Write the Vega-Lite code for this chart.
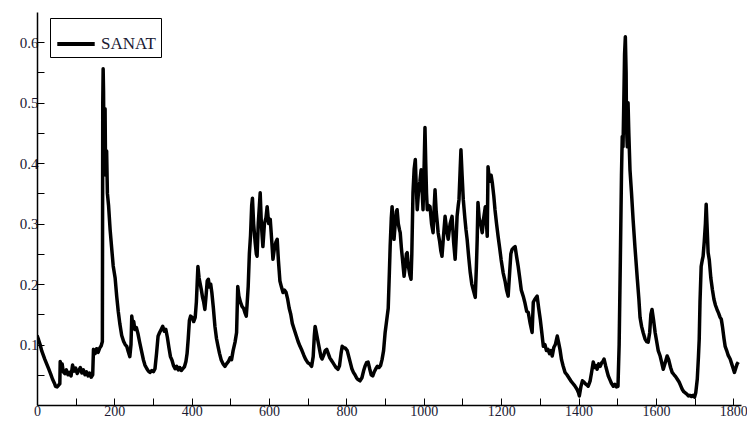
{
  "$schema": "https://vega.github.io/schema/vega-lite/v6.json",
  "autosize": "none",
  "width": 704,
  "height": 393,
  "padding": {"left": 37, "top": 12, "right": 6, "bottom": 28},
  "background": "white",
  "config": {"view": {"stroke": null}},
  "data": {"values": [
{"t":0,"v":0.115},{"t":4,"v":0.108},{"t":8,"v":0.1},{"t":12,"v":0.09},{"t":16,"v":0.083},{"t":20,"v":0.076},{"t":25,"v":0.068},{"t":30,"v":0.06},{"t":35,"v":0.052},{"t":40,"v":0.043},{"t":45,"v":0.036},{"t":48,"v":0.031},{"t":52,"v":0.03},{"t":56,"v":0.033},{"t":59,"v":0.035},{"t":60,"v":0.072},{"t":62,"v":0.062},{"t":65,"v":0.068},{"t":68,"v":0.055},{"t":72,"v":0.052},{"t":76,"v":0.058},{"t":80,"v":0.05},{"t":84,"v":0.054},{"t":88,"v":0.048},{"t":92,"v":0.066},{"t":96,"v":0.056},{"t":100,"v":0.061},{"t":104,"v":0.052},{"t":108,"v":0.057},{"t":112,"v":0.062},{"t":116,"v":0.053},{"t":120,"v":0.058},{"t":124,"v":0.05},{"t":128,"v":0.055},{"t":132,"v":0.048},{"t":136,"v":0.053},{"t":140,"v":0.046},{"t":144,"v":0.05},{"t":146,"v":0.092},{"t":150,"v":0.085},{"t":154,"v":0.093},{"t":158,"v":0.087},{"t":162,"v":0.094},{"t":166,"v":0.098},{"t":169,"v":0.105},{"t":170,"v":0.5},{"t":171,"v":0.556},{"t":172,"v":0.52},{"t":173,"v":0.43},{"t":174,"v":0.47},{"t":175,"v":0.39},{"t":176,"v":0.49},{"t":177,"v":0.41},{"t":178,"v":0.38},{"t":180,"v":0.42},{"t":182,"v":0.35},{"t":185,"v":0.33},{"t":189,"v":0.29},{"t":193,"v":0.26},{"t":197,"v":0.23},{"t":202,"v":0.21},{"t":206,"v":0.18},{"t":210,"v":0.155},{"t":214,"v":0.135},{"t":219,"v":0.115},{"t":224,"v":0.105},{"t":228,"v":0.1},{"t":232,"v":0.097},{"t":236,"v":0.088},{"t":240,"v":0.08},{"t":243,"v":0.1},{"t":245,"v":0.147},{"t":248,"v":0.13},{"t":250,"v":0.138},{"t":253,"v":0.125},{"t":257,"v":0.128},{"t":261,"v":0.118},{"t":265,"v":0.105},{"t":270,"v":0.09},{"t":275,"v":0.075},{"t":279,"v":0.066},{"t":284,"v":0.06},{"t":288,"v":0.056},{"t":292,"v":0.054},{"t":297,"v":0.057},{"t":301,"v":0.055},{"t":305,"v":0.06},{"t":309,"v":0.085},{"t":313,"v":0.114},{"t":317,"v":0.12},{"t":321,"v":0.125},{"t":325,"v":0.13},{"t":329,"v":0.122},{"t":333,"v":0.125},{"t":337,"v":0.112},{"t":341,"v":0.095},{"t":345,"v":0.08},{"t":349,"v":0.074},{"t":353,"v":0.065},{"t":357,"v":0.06},{"t":361,"v":0.064},{"t":365,"v":0.058},{"t":369,"v":0.062},{"t":373,"v":0.057},{"t":377,"v":0.06},{"t":381,"v":0.063},{"t":385,"v":0.072},{"t":388,"v":0.085},{"t":391,"v":0.11},{"t":394,"v":0.14},{"t":397,"v":0.147},{"t":401,"v":0.145},{"t":405,"v":0.138},{"t":409,"v":0.145},{"t":412,"v":0.17},{"t":414,"v":0.2},{"t":416,"v":0.229},{"t":419,"v":0.21},{"t":422,"v":0.2},{"t":425,"v":0.19},{"t":428,"v":0.178},{"t":431,"v":0.17},{"t":434,"v":0.158},{"t":437,"v":0.18},{"t":440,"v":0.205},{"t":443,"v":0.208},{"t":446,"v":0.195},{"t":449,"v":0.2},{"t":452,"v":0.186},{"t":456,"v":0.16},{"t":460,"v":0.13},{"t":464,"v":0.11},{"t":468,"v":0.097},{"t":472,"v":0.085},{"t":476,"v":0.075},{"t":481,"v":0.068},{"t":486,"v":0.064},{"t":490,"v":0.068},{"t":495,"v":0.072},{"t":499,"v":0.078},{"t":503,"v":0.075},{"t":507,"v":0.09},{"t":512,"v":0.104},{"t":516,"v":0.12},{"t":519,"v":0.196},{"t":522,"v":0.18},{"t":526,"v":0.17},{"t":530,"v":0.163},{"t":534,"v":0.16},{"t":538,"v":0.152},{"t":541,"v":0.147},{"t":543,"v":0.165},{"t":546,"v":0.196},{"t":549,"v":0.25},{"t":552,"v":0.28},{"t":555,"v":0.33},{"t":557,"v":0.342},{"t":560,"v":0.3},{"t":564,"v":0.269},{"t":567,"v":0.25},{"t":569,"v":0.246},{"t":572,"v":0.3},{"t":575,"v":0.33},{"t":577,"v":0.351},{"t":580,"v":0.3},{"t":582,"v":0.28},{"t":584,"v":0.262},{"t":588,"v":0.3},{"t":592,"v":0.31},{"t":595,"v":0.328},{"t":599,"v":0.3},{"t":603,"v":0.307},{"t":607,"v":0.27},{"t":610,"v":0.241},{"t":614,"v":0.26},{"t":618,"v":0.27},{"t":621,"v":0.274},{"t":624,"v":0.24},{"t":628,"v":0.205},{"t":632,"v":0.195},{"t":636,"v":0.186},{"t":640,"v":0.19},{"t":644,"v":0.186},{"t":648,"v":0.175},{"t":652,"v":0.16},{"t":656,"v":0.15},{"t":660,"v":0.135},{"t":665,"v":0.125},{"t":670,"v":0.115},{"t":675,"v":0.105},{"t":680,"v":0.097},{"t":685,"v":0.09},{"t":690,"v":0.082},{"t":695,"v":0.075},{"t":700,"v":0.07},{"t":705,"v":0.068},{"t":710,"v":0.064},{"t":714,"v":0.08},{"t":717,"v":0.115},{"t":719,"v":0.13},{"t":722,"v":0.12},{"t":725,"v":0.11},{"t":728,"v":0.1},{"t":731,"v":0.09},{"t":734,"v":0.08},{"t":737,"v":0.076},{"t":741,"v":0.082},{"t":745,"v":0.09},{"t":749,"v":0.092},{"t":753,"v":0.085},{"t":757,"v":0.078},{"t":761,"v":0.074},{"t":765,"v":0.07},{"t":769,"v":0.066},{"t":773,"v":0.062},{"t":778,"v":0.059},{"t":782,"v":0.065},{"t":786,"v":0.085},{"t":789,"v":0.097},{"t":793,"v":0.095},{"t":797,"v":0.094},{"t":802,"v":0.09},{"t":806,"v":0.08},{"t":810,"v":0.07},{"t":814,"v":0.06},{"t":818,"v":0.054},{"t":822,"v":0.05},{"t":826,"v":0.045},{"t":830,"v":0.042},{"t":835,"v":0.04},{"t":840,"v":0.045},{"t":845,"v":0.058},{"t":848,"v":0.064},{"t":852,"v":0.07},{"t":856,"v":0.071},{"t":860,"v":0.06},{"t":864,"v":0.05},{"t":868,"v":0.048},{"t":872,"v":0.055},{"t":876,"v":0.06},{"t":880,"v":0.064},{"t":884,"v":0.062},{"t":888,"v":0.065},{"t":892,"v":0.075},{"t":896,"v":0.09},{"t":900,"v":0.12},{"t":904,"v":0.14},{"t":908,"v":0.16},{"t":911,"v":0.22},{"t":913,"v":0.262},{"t":916,"v":0.31},{"t":918,"v":0.328},{"t":920,"v":0.3},{"t":923,"v":0.274},{"t":926,"v":0.3},{"t":929,"v":0.32},{"t":931,"v":0.323},{"t":934,"v":0.3},{"t":937,"v":0.29},{"t":939,"v":0.285},{"t":942,"v":0.26},{"t":945,"v":0.24},{"t":949,"v":0.213},{"t":952,"v":0.23},{"t":955,"v":0.25},{"t":957,"v":0.252},{"t":960,"v":0.23},{"t":964,"v":0.215},{"t":967,"v":0.208},{"t":969,"v":0.25},{"t":972,"v":0.351},{"t":975,"v":0.39},{"t":978,"v":0.406},{"t":980,"v":0.37},{"t":983,"v":0.323},{"t":986,"v":0.35},{"t":990,"v":0.37},{"t":993,"v":0.389},{"t":996,"v":0.35},{"t":998,"v":0.323},{"t":1001,"v":0.4},{"t":1003,"v":0.459},{"t":1005,"v":0.4},{"t":1007,"v":0.35},{"t":1009,"v":0.323},{"t":1012,"v":0.33},{"t":1016,"v":0.328},{"t":1020,"v":0.3},{"t":1024,"v":0.285},{"t":1027,"v":0.33},{"t":1029,"v":0.356},{"t":1032,"v":0.32},{"t":1035,"v":0.3},{"t":1037,"v":0.285},{"t":1041,"v":0.27},{"t":1044,"v":0.255},{"t":1047,"v":0.246},{"t":1051,"v":0.28},{"t":1055,"v":0.312},{"t":1059,"v":0.29},{"t":1063,"v":0.274},{"t":1068,"v":0.3},{"t":1073,"v":0.312},{"t":1077,"v":0.27},{"t":1081,"v":0.241},{"t":1084,"v":0.28},{"t":1086,"v":0.312},{"t":1089,"v":0.33},{"t":1091,"v":0.34},{"t":1094,"v":0.39},{"t":1096,"v":0.422},{"t":1099,"v":0.38},{"t":1102,"v":0.34},{"t":1106,"v":0.31},{"t":1109,"v":0.29},{"t":1112,"v":0.274},{"t":1116,"v":0.245},{"t":1120,"v":0.219},{"t":1124,"v":0.2},{"t":1128,"v":0.19},{"t":1133,"v":0.178},{"t":1136,"v":0.23},{"t":1138,"v":0.274},{"t":1140,"v":0.335},{"t":1143,"v":0.31},{"t":1147,"v":0.3},{"t":1151,"v":0.285},{"t":1155,"v":0.31},{"t":1159,"v":0.328},{"t":1162,"v":0.3},{"t":1164,"v":0.279},{"t":1166,"v":0.394},{"t":1170,"v":0.37},{"t":1174,"v":0.38},{"t":1177,"v":0.368},{"t":1181,"v":0.345},{"t":1184,"v":0.323},{"t":1188,"v":0.3},{"t":1192,"v":0.279},{"t":1196,"v":0.26},{"t":1200,"v":0.24},{"t":1205,"v":0.219},{"t":1210,"v":0.205},{"t":1214,"v":0.19},{"t":1218,"v":0.18},{"t":1222,"v":0.22},{"t":1225,"v":0.25},{"t":1228,"v":0.257},{"t":1232,"v":0.26},{"t":1236,"v":0.262},{"t":1240,"v":0.245},{"t":1244,"v":0.229},{"t":1248,"v":0.21},{"t":1252,"v":0.19},{"t":1257,"v":0.18},{"t":1261,"v":0.17},{"t":1266,"v":0.155},{"t":1270,"v":0.153},{"t":1275,"v":0.135},{"t":1280,"v":0.12},{"t":1283,"v":0.17},{"t":1287,"v":0.175},{"t":1293,"v":0.18},{"t":1297,"v":0.16},{"t":1301,"v":0.142},{"t":1305,"v":0.12},{"t":1309,"v":0.097},{"t":1313,"v":0.1},{"t":1317,"v":0.09},{"t":1321,"v":0.092},{"t":1325,"v":0.085},{"t":1329,"v":0.09},{"t":1332,"v":0.081},{"t":1336,"v":0.095},{"t":1340,"v":0.1},{"t":1345,"v":0.114},{"t":1348,"v":0.105},{"t":1352,"v":0.092},{"t":1356,"v":0.075},{"t":1360,"v":0.065},{"t":1365,"v":0.054},{"t":1370,"v":0.05},{"t":1375,"v":0.045},{"t":1380,"v":0.04},{"t":1385,"v":0.036},{"t":1390,"v":0.032},{"t":1396,"v":0.026},{"t":1400,"v":0.02},{"t":1402,"v":0.015},{"t":1406,"v":0.03},{"t":1410,"v":0.04},{"t":1414,"v":0.038},{"t":1418,"v":0.035},{"t":1422,"v":0.033},{"t":1425,"v":0.031},{"t":1430,"v":0.04},{"t":1434,"v":0.055},{"t":1438,"v":0.071},{"t":1442,"v":0.062},{"t":1446,"v":0.065},{"t":1448,"v":0.059},{"t":1452,"v":0.068},{"t":1456,"v":0.064},{"t":1460,"v":0.07},{"t":1463,"v":0.072},{"t":1466,"v":0.076},{"t":1470,"v":0.065},{"t":1474,"v":0.055},{"t":1477,"v":0.048},{"t":1481,"v":0.042},{"t":1485,"v":0.036},{"t":1490,"v":0.031},{"t":1494,"v":0.034},{"t":1498,"v":0.03},{"t":1502,"v":0.031},{"t":1505,"v":0.1},{"t":1508,"v":0.236},{"t":1511,"v":0.38},{"t":1513,"v":0.444},{"t":1515,"v":0.427},{"t":1517,"v":0.5},{"t":1519,"v":0.58},{"t":1521,"v":0.609},{"t":1523,"v":0.55},{"t":1524,"v":0.46},{"t":1526,"v":0.427},{"t":1528,"v":0.5},{"t":1530,"v":0.45},{"t":1533,"v":0.389},{"t":1537,"v":0.35},{"t":1541,"v":0.307},{"t":1546,"v":0.26},{"t":1552,"v":0.208},{"t":1556,"v":0.175},{"t":1559,"v":0.145},{"t":1563,"v":0.13},{"t":1567,"v":0.12},{"t":1572,"v":0.109},{"t":1576,"v":0.105},{"t":1580,"v":0.104},{"t":1584,"v":0.12},{"t":1587,"v":0.15},{"t":1590,"v":0.158},{"t":1594,"v":0.14},{"t":1598,"v":0.12},{"t":1602,"v":0.105},{"t":1606,"v":0.09},{"t":1611,"v":0.081},{"t":1615,"v":0.07},{"t":1619,"v":0.059},{"t":1624,"v":0.07},{"t":1629,"v":0.081},{"t":1633,"v":0.075},{"t":1638,"v":0.062},{"t":1642,"v":0.054},{"t":1647,"v":0.05},{"t":1651,"v":0.047},{"t":1655,"v":0.043},{"t":1660,"v":0.038},{"t":1664,"v":0.032},{"t":1668,"v":0.026},{"t":1672,"v":0.022},{"t":1676,"v":0.02},{"t":1680,"v":0.018},{"t":1684,"v":0.015},{"t":1688,"v":0.016},{"t":1692,"v":0.014},{"t":1696,"v":0.016},{"t":1700,"v":0.013},{"t":1703,"v":0.02},{"t":1707,"v":0.043},{"t":1710,"v":0.08},{"t":1712,"v":0.109},{"t":1714,"v":0.17},{"t":1717,"v":0.229},{"t":1720,"v":0.24},{"t":1722,"v":0.246},{"t":1725,"v":0.27},{"t":1728,"v":0.3},{"t":1730,"v":0.332},{"t":1732,"v":0.3},{"t":1735,"v":0.252},{"t":1738,"v":0.24},{"t":1742,"v":0.21},{"t":1746,"v":0.191},{"t":1750,"v":0.175},{"t":1754,"v":0.165},{"t":1758,"v":0.158},{"t":1762,"v":0.152},{"t":1766,"v":0.145},{"t":1769,"v":0.142},{"t":1772,"v":0.13},{"t":1776,"v":0.11},{"t":1779,"v":0.097},{"t":1783,"v":0.09},{"t":1787,"v":0.082},{"t":1792,"v":0.076},{"t":1796,"v":0.068},{"t":1800,"v":0.06},{"t":1803,"v":0.054},{"t":1807,"v":0.062},{"t":1810,"v":0.068},{"t":1813,"v":0.071}
  ]},
  "mark": {"type": "line", "strokeWidth": 3.5, "strokeJoin": "round", "clip": true},
  "encoding": {
    "x": {
      "field": "t", "type": "quantitative",
      "scale": {"domain": [0, 1820], "nice": false, "zero": false},
      "axis": {
        "title": null, "grid": false,
        "values": [0,100,200,300,400,500,600,700,800,900,1000,1100,1200,1300,1400,1500,1600,1700,1800],
        "labelExpr": "datum.value % 200 == 0 ? datum.value : ''",
        "domainColor": "black", "domainWidth": 1.5,
        "tickColor": "black", "tickSize": -7, "tickWidth": 1,
        "labelFont": "'Liberation Serif', 'Times New Roman', serif", "labelFontSize": 14, "labelColor": "#1a1a33",
        "labelPadding": 6, "labelFlush": false, "labelOverlap": false
      }
    },
    "y": {
      "field": "v", "type": "quantitative",
      "scale": {"domain": [0, 0.65], "nice": false, "zero": false},
      "axis": {
        "title": null, "grid": false,
        "values": [0.05,0.1,0.15,0.2,0.25,0.3,0.35,0.4,0.45,0.5,0.55,0.6],
        "labelExpr": "round(datum.value*100) % 10 == 0 ? format(datum.value, '.1f') : ''",
        "domainColor": "black", "domainWidth": 1.5,
        "tickColor": "black", "tickSize": -7, "tickWidth": 1,
        "labelFont": "'Liberation Serif', 'Times New Roman', serif", "labelFontSize": 15, "labelColor": "#1a1a33",
        "labelPadding": 6, "labelFlush": false, "labelOverlap": false
      }
    },
    "color": {
      "datum": "SANAT", "type": "nominal",
      "scale": {"domain": ["SANAT"], "range": ["black"]},
      "legend": {
        "title": null, "orient": "none", "legendX": 13, "legendY": 6,
        "symbolType": "stroke", "symbolSize": 1400, "symbolStrokeWidth": 4,
        "labelFont": "'Liberation Serif', 'Times New Roman', serif", "labelFontSize": 17, "labelColor": "#1a1a33",
        "strokeColor": "black", "padding": 5, "labelOffset": 4,
        "fillColor": "white"
      }
    }
  }
}
